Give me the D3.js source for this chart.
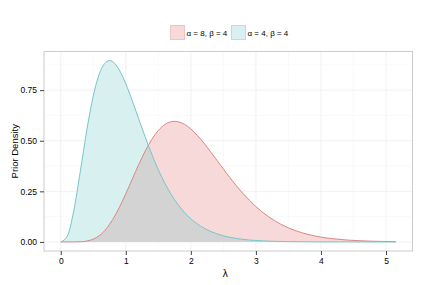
<!DOCTYPE html>
<html>
<head>
<meta charset="utf-8">
<script src="https://cdn.jsdelivr.net/npm/d3@7"></script>
<style>
  body { margin: 0; background: #fff; }
  svg text { font-family: "Liberation Sans", Arial, sans-serif; }
</style>
</head>
<body>
<div id="chart"></div>
<script>
// lambda grid
const lambda = [0, 0.1, 0.2, 0.3, 0.4, 0.5, 0.6, 0.7, 0.75, 0.8, 0.9, 1.0, 1.1, 1.2, 1.3, 1.4, 1.5, 1.6, 1.7, 1.75, 1.8, 1.9,
  2.0, 2.1, 2.2, 2.3, 2.4, 2.5, 2.6, 2.7, 2.8, 2.9, 3.0, 3.1, 3.2, 3.3, 3.4, 3.5, 3.6, 3.7, 3.8, 3.9,
  4.0, 4.2, 4.4, 4.6, 4.8, 5.0, 5.15];

// alpha = 8, beta = 4
const densA8 = [0, 0, 0.0001, 0.0009, 0.0043, 0.0138, 0.0330, 0.0651, 0.0870, 0.1112, 0.1699, 0.2382, 0.3111, 0.3834, 0.4501, 0.5069, 0.5507, 0.5800, 0.5943, 0.5960, 0.5943, 0.5817,
  0.5583, 0.5266, 0.4889, 0.4473, 0.4039, 0.3603, 0.3178, 0.2775, 0.2399, 0.2056, 0.1747, 0.1475, 0.1234, 0.1026, 0.0847, 0.0696, 0.0568, 0.0461, 0.0373, 0.0300,
  0.0240, 0.0152, 0.0094, 0.0058, 0.0035, 0.0021, 0.0014];

// alpha = 4, beta = 4
const densA4 = [0, 0.0286, 0.1534, 0.3470, 0.5513, 0.7218, 0.8361, 0.8899, 0.8962, 0.8905, 0.8499, 0.7815, 0.6972, 0.6068, 0.5171, 0.4329, 0.3569, 0.2904, 0.2335, 0.2085, 0.1858, 0.1465,
  0.1145, 0.0889, 0.0685, 0.0525, 0.0399, 0.0303, 0.0228, 0.0171, 0.0128, 0.0095, 0.0071, 0.0053, 0.0039, 0.0029, 0.0021, 0.0015, 0.0011, 0.0008, 0.0006, 0.0004,
  0.0003, 0.0002, 0.0001, 0, 0, 0, 0];

const seriesNames = ['α = 8, β = 4', 'α = 4, β = 4'];
const xTicks = [0, 1, 2, 3, 4, 5];
const yTicks = [0, 0.25, 0.5, 0.75];

const fills = ['#f8d9d9', '#d9f0f1'];
const strokes = ['#d98884', '#76c6c9'];
const overlapFill = '#d3d3d3';

const W = 425, H = 285;
const panel = { left: 44, right: 412.5, top: 51.5, bottom: 251 };

const svg = d3.select('#chart').append('svg')
  .attr('width', W)
  .attr('height', H);

const x = d3.scaleLinear().domain([-0.2575, 5.4075]).range([panel.left, panel.right]);
const y = d3.scaleLinear().domain([-0.0448, 0.941]).range([panel.bottom, panel.top]);

// minor grid
const xMinor = [0.5, 1.5, 2.5, 3.5, 4.5];
const yMinor = [0.125, 0.375, 0.625, 0.875];
svg.append('g').selectAll('line').data(xMinor).enter().append('line')
  .attr('x1', d => x(d)).attr('x2', d => x(d))
  .attr('y1', panel.top).attr('y2', panel.bottom)
  .attr('stroke', '#f7f7f7').attr('stroke-width', 0.6);
svg.append('g').selectAll('line').data(yMinor).enter().append('line')
  .attr('y1', d => y(d)).attr('y2', d => y(d))
  .attr('x1', panel.left).attr('x2', panel.right)
  .attr('stroke', '#f7f7f7').attr('stroke-width', 0.6);

// major grid
svg.append('g').selectAll('line').data(xTicks).enter().append('line')
  .attr('x1', d => x(d)).attr('x2', d => x(d))
  .attr('y1', panel.top).attr('y2', panel.bottom)
  .attr('stroke', '#eeeeee').attr('stroke-width', 0.8);
svg.append('g').selectAll('line').data(yTicks).enter().append('line')
  .attr('y1', d => y(d)).attr('y2', d => y(d))
  .attr('x1', panel.left).attr('x2', panel.right)
  .attr('stroke', '#eeeeee').attr('stroke-width', 0.8);

const rows = lambda.map((l, i) => ({ l, a8: densA8[i], a4: densA4[i] }));

const areaA8 = d3.area().x(d => x(d.l)).y0(y(0)).y1(d => y(d.a8)).curve(d3.curveMonotoneX);
const areaA4 = d3.area().x(d => x(d.l)).y0(y(0)).y1(d => y(d.a4)).curve(d3.curveMonotoneX);
const lineA8 = d3.line().x(d => x(d.l)).y(d => y(d.a8)).curve(d3.curveMonotoneX);
const lineA4 = d3.line().x(d => x(d.l)).y(d => y(d.a4)).curve(d3.curveMonotoneX);

svg.append('clipPath').attr('id', 'clipA8')
  .append('path').attr('d', areaA8(rows));

svg.append('path').attr('d', areaA8(rows)).attr('fill', fills[0]);
svg.append('path').attr('d', areaA4(rows)).attr('fill', fills[1]);
// overlap of the two shaded regions shows grey
svg.append('path').attr('d', areaA4(rows)).attr('fill', overlapFill).attr('clip-path', 'url(#clipA8)');

svg.append('path').attr('d', lineA8(rows)).attr('fill', 'none')
  .attr('stroke', strokes[0]).attr('stroke-width', 1);
svg.append('path').attr('d', lineA4(rows)).attr('fill', 'none')
  .attr('stroke', strokes[1]).attr('stroke-width', 1);

// panel border
svg.append('rect')
  .attr('x', panel.left).attr('y', panel.top)
  .attr('width', panel.right - panel.left).attr('height', panel.bottom - panel.top)
  .attr('fill', 'none').attr('stroke', '#cccccc').attr('stroke-width', 1);

// axes
const xAxis = svg.append('g')
  .attr('transform', `translate(0,${panel.bottom})`)
  .call(d3.axisBottom(x).tickValues(xTicks).tickFormat(d3.format('d')).tickSize(4).tickPadding(3));
const yAxis = svg.append('g')
  .attr('transform', `translate(${panel.left},0)`)
  .call(d3.axisLeft(y).tickValues(yTicks).tickFormat(d3.format('.2f')).tickSize(4).tickPadding(3));

[xAxis, yAxis].forEach(g => {
  g.select('.domain').remove();
  g.selectAll('.tick line').attr('stroke', '#444');
  g.selectAll('.tick text').attr('fill', '#000').style('font-size', '8.5px');
});

svg.append('text')
  .attr('x', x(2.53)).attr('y', 277)
  .attr('text-anchor', 'middle')
  .style('font-size', '10px').attr('fill', '#000')
  .text('λ');

svg.append('text')
  .attr('transform', `translate(18,${(panel.top + panel.bottom) / 2}) rotate(-90)`)
  .attr('text-anchor', 'middle')
  .style('font-size', '9.5px').attr('fill', '#000')
  .text('Prior Density');

// legend
const legend = svg.append('g');
const legendX = [170, 231];
seriesNames.forEach((name, i) => {
  const g = legend.append('g').attr('transform', `translate(${legendX[i]},25)`);
  g.append('rect').attr('x', 0.5).attr('y', 0.5).attr('width', 14).attr('height', 14)
    .attr('fill', fills[i]).attr('stroke', i === 0 ? '#eec3c3' : '#b9dfe1').attr('stroke-width', 1);
  g.append('text').attr('x', 16.5).attr('y', 10.5)
    .style('font-size', '8px').attr('fill', '#000')
    .text(name);
});
</script>
</body>
</html>
